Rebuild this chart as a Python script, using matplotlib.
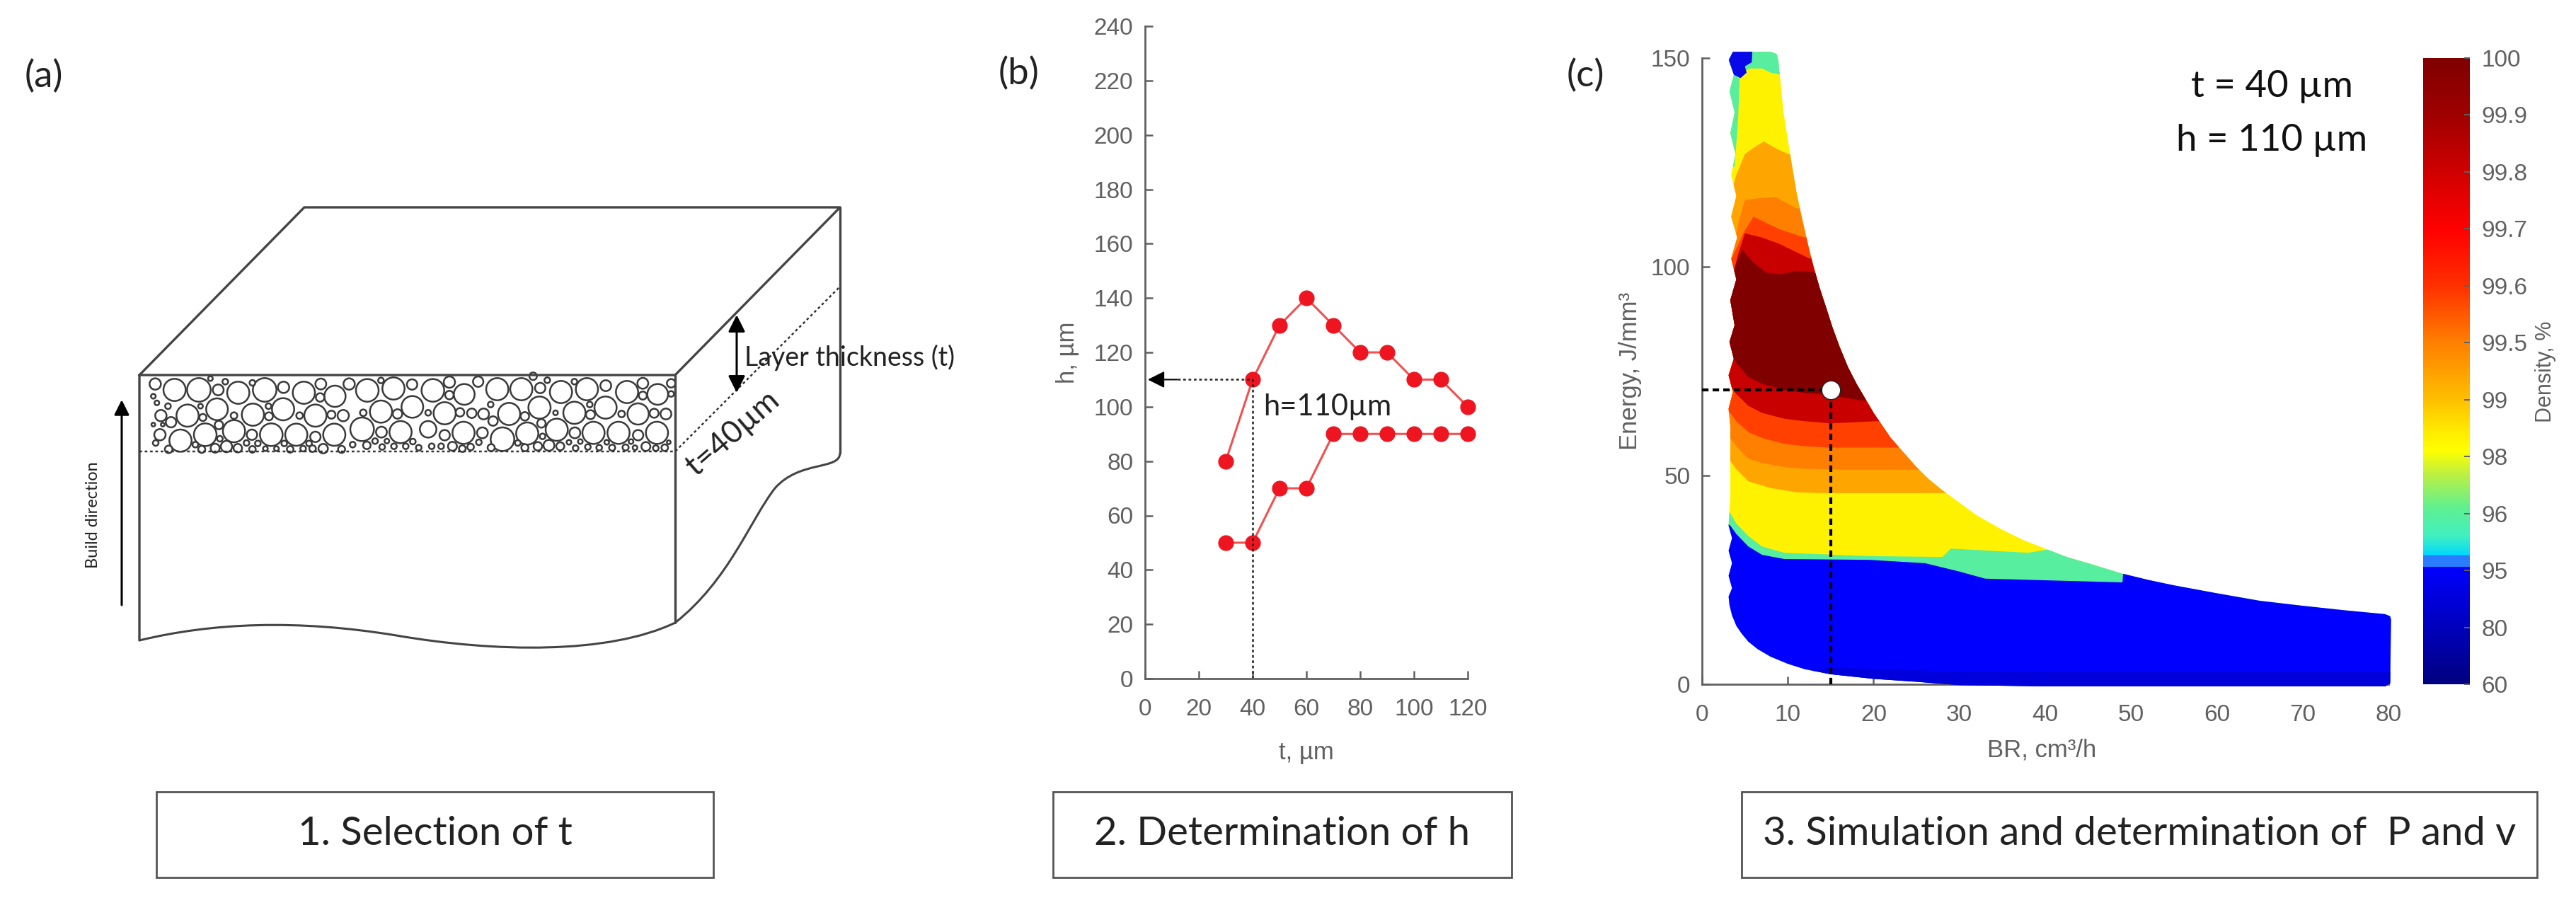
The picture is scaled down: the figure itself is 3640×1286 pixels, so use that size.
import numpy as np
import matplotlib
matplotlib.use("Agg")
from matplotlib import pyplot as plt
from matplotlib.colors import LinearSegmentedColormap
from matplotlib.patches import Circle, PathPatch, Polygon, Rectangle
from matplotlib.path import Path

W, H = 3641, 1286
GREY = '#606060'
plt.rcParams['font.family'] = ['Liberation Sans', 'DejaVu Sans']

# panel b
t_vals = [30, 40, 50, 60, 70, 80, 90, 100, 110, 120]
h_upper = [80, 110, 130, 140, 130, 120, 120, 110, 110, 100]
h_lower = [50, 50, 70, 70, 90, 90, 90, 90, 90, 90]
t_chosen = 40
h_chosen = 110

# panel c, outline of the process window (BR, energy), clockwise from top left
outline_x = [3.1, 3.6, 5.9, 8.0, 8.7, 8.9, 9.5, 10.3, 11, 11.5, 12, 12.5, 13, 13.7, 14.5, 15.2, 16, 17, 18, 19, 20, 21,
             22, 23.5, 25, 26.5, 28, 30, 32, 35, 37.5, 40, 42.5, 45, 49, 52, 55, 60, 65, 70, 75, 79.6, 80.2, 80.3,
             80.2, 79.6, 60, 40, 30, 25, 20, 15, 12, 10, 8, 6.5, 5.4, 4.6, 4, 3.5, 3.2,
             3.1, 3.5, 3.1, 3.5, 3.1, 3.5, 3.1, 3.3, 3.3, 3.3, 3.1, 3.6, 3.1, 3.7, 3.2, 3.8, 3.3, 4.0, 3.4, 4.1,
             3.4, 4.0, 3.4, 3.9, 3.3, 3.8, 3.2, 3.7, 3.1]
outline_e = [149.5, 151.5, 151.5, 151.5, 151, 149.5, 137, 126.6, 118, 113, 108.5, 104, 100, 95, 90, 85.5, 81, 76,
             72, 68.5, 65, 62, 59, 55.5, 52, 49, 46.5, 43.5, 40.5, 37, 34.5, 32.5, 30.5, 29, 26.5, 25, 23.7, 21.8,
             20, 18.8, 17.7, 16.8, 16.3, 15.5, 0.2, -0.5, -0.5, -0.5, -0.2, 0.6, 1.3, 2.4, 3.6, 4.9, 6.6, 8.4,
             10.2, 12.2, 14, 16.5, 19,
             21, 23, 26, 29, 32, 35, 38, 45, 55, 62, 66, 70, 74, 78, 82, 86, 92, 97, 102, 107, 112, 117,
             122, 127, 132, 137, 142, 146, 149.5]

# density bands: top curve and bottom curve, (BR, energy)
yellow_all = [(2, 25), (90, 25), (90, 155), (2, 155)]
light_orange_top = [(2.5, 112), (3.3, 117), (4, 122), (5, 127), (6, 128.5), (7.2, 130), (8.5, 128.5), (10, 127), (14, 127)]
light_orange_bot = [(32, 45.8), (27, 45.8), (19.5, 45.8), (14, 45.8), (11, 46), (8, 47), (5.4, 48.6), (4, 51.5), (3.3, 53.5), (2.5, 55)]
orange_top = [(2.5, 100), (3.7, 105), (4.3, 111), (5, 116), (6.5, 116.4), (8.6, 116.7), (11, 114), (14, 114)]
orange_bot = [(30, 51.4), (24.5, 51.4), (16, 51.4), (12, 51.6), (9.6, 52), (7, 53), (5.4, 54), (4, 57), (3.3, 59), (2.5, 60)]
red_orange_top = [(2.5, 98), (3.7, 103), (4.8, 108), (6, 112), (7.5, 110.5), (9, 109), (12, 107), (15, 107)]
red_orange_bot = [(28, 56.7), (22, 56.7), (15, 56.7), (12, 57), (9.6, 57.6), (7, 59), (5.4, 60.4), (4, 63), (3.3, 65), (2.5, 66)]
red_top = [(2.5, 92), (3.5, 97), (4.2, 103), (5, 108), (7, 107), (9, 105.5), (12.5, 102), (15, 102)]
red_bot = [(25, 63), (20.2, 63), (15, 62.5), (12, 63), (9.6, 63.6), (7, 65), (5.4, 66.7), (4, 69.5), (3.3, 71.5), (2.5, 72)]
maroon_top = [(2.5, 90), (3.3, 96), (4, 101), (4.7, 104), (6, 101), (7.5, 98.6), (9, 98.2), (11, 99), (14, 98.6)]
maroon_bot = [(24, 68), (18.5, 68), (14.6, 69.4), (12, 69.8), (9.6, 70.5), (7, 72), (5.4, 73.6), (4, 77), (3.3, 79), (2.5, 80)]
teal_low = [(2.5, 42), (3.3, 41), (4, 38.5), (5.4, 35.5), (7, 33), (9.6, 31.5), (19.5, 30.7), (28, 30.5), (29, 32.5), (38, 31.5),
            (41, 32.5), (52, 30), (90, 30), (90, -5), (2, -5)]
blue_low = [(2.5, 39), (3.3, 38), (4, 36), (5.4, 33), (7, 31), (9.6, 30), (19.5, 29.8), (26, 29), (30, 27), (33, 25.3), (49, 24.4),
            (49.2, 30), (90, 30), (90, -5), (2, -5)]
teal_high = [(2.5, 124), (3.8, 124), (4.2, 135), (4.4, 146), (5.5, 147.5), (7, 147.5), (8, 146.5), (9.2, 146),
             (10, 153), (2.5, 153)]
blue_high = [(2.8, 153), (5.9, 153), (5.8, 149), (5.0, 148), (5.2, 146.5), (4.5, 145.2), (3.7, 146), (3.2, 149)]
dark_strip = [(0, -1), (90, -1), (90, 3), (30, 3), (15, 4)]
BR_chosen = 15
E_chosen = 70.5

# colorbar
cb_labels = ['60', '80', '95', '96', '98', '99', '99.5', '99.6', '99.7', '99.8', '99.9', '100']
cb_nodes = [0, 2.06, 2.06, 2.26, 2.26, 2.6, 3.1, 3.7, 4.1, 4.4, 5, 6, 7, 8, 9, 10, 11]
cb_colors = ['#00007f', '#0000ff', '#2a7cff', '#2a7cff', '#00d8ff', '#40f0c0', '#60f090', '#c0f040', '#ffff00',
             '#ffee00', '#ffc000', '#ff8000', '#ff3000', '#ff0000', '#d00000', '#a00000', '#7f0000']

# panel a, circles of the powder layer, from left to right in picture pixels (x, y, r)
powder_left = [(200, 153, 47), (303, 153, 50), (470, 165, 47), (582, 153, 50), (748, 165, 47), (880, 180, 45),
               (1017, 155, 48), (1128, 147, 47), (255, 262, 47), (380, 235, 46), (532, 258, 47), (660, 235, 47),
               (797, 262, 47), (1075, 245, 47), (1208, 225, 46), (225, 368, 47), (330, 343, 48), (452, 328, 47),
               (610, 343, 48), (716, 343, 47), (877, 343, 47), (995, 320, 50), (1158, 332, 47), (118, 128, 24),
               (352, 105, 10), (385, 153, 23), (415, 118, 12), (530, 123, 12), (662, 142, 24), (820, 128, 23),
               (817, 185, 18), (940, 128, 24), (1075, 113, 12), (1207, 130, 22), (172, 222, 12), (142, 262, 24),
               (185, 290, 22), (320, 270, 15), (310, 222, 10), (452, 262, 14), (598, 222, 12), (600, 265, 17),
               (730, 262, 14), (865, 258, 17), (915, 262, 24), (1000, 250, 14), (1145, 255, 20), (138, 343, 24),
               (388, 302, 18), (392, 360, 12), (528, 343, 22), (797, 352, 22), (1077, 332, 23), (175, 405, 16),
               (288, 385, 12), (315, 405, 15), (372, 400, 19), (420, 393, 24), (468, 400, 18), (505, 378, 12),
               (530, 405, 14), (553, 380, 12), (585, 402, 10), (632, 402, 10), (665, 380, 12), (690, 405, 14),
               (745, 402, 12), (770, 380, 12), (785, 402, 14), (830, 402, 20), (908, 405, 15), (955, 385, 12),
               (1015, 388, 16), (1050, 370, 12), (1080, 395, 12), (1100, 370, 10), (1130, 392, 12), (1180, 392, 12),
               (1210, 372, 12), (1235, 398, 12), (110, 180, 10), (125, 208, 10), (110, 300, 8), (150, 300, 8),
               (120, 378, 12)]
powder_right = [(35, 155, 48), (105, 120, 24), (105, 175, 18), (168, 172, 44), (227, 118, 22), (308, 150, 47),
                (410, 150, 47), (490, 145, 22), (520, 112, 12), (460, 95, 16), (578, 162, 47), (635, 118, 12),
                (688, 150, 47), (768, 135, 23), (858, 162, 47), (925, 125, 23), (925, 177, 17), (988, 172, 44),
                (1045, 125, 18), (85, 252, 47), (150, 248, 18), (200, 252, 20), (250, 255, 23), (358, 255, 47),
                (425, 265, 18), (487, 228, 47), (635, 250, 47), (703, 258, 19), (767, 228, 47), (700, 215, 12),
                (835, 255, 14), (905, 255, 45), (973, 252, 19), (1023, 255, 23), (280, 215, 12), (290, 285, 20),
                (15, 250, 12), (555, 250, 10), (495, 295, 18), (15, 320, 35), (85, 345, 22), (165, 335, 47),
                (245, 335, 23), (330, 362, 50), (435, 338, 47), (560, 322, 47), (637, 335, 23), (716, 335, 47),
                (822, 335, 47), (905, 345, 22), (985, 335, 47), (500, 350, 12), (30, 392, 12), (70, 392, 12),
                (118, 392, 19), (160, 402, 14), (195, 395, 14), (282, 398, 15), (395, 378, 12), (425, 398, 15),
                (480, 392, 18), (527, 388, 23), (575, 392, 17), (612, 375, 10), (640, 400, 12), (660, 372, 10),
                (692, 395, 12), (740, 398, 12), (772, 375, 10), (795, 398, 13), (852, 397, 13), (875, 372, 10),
                (892, 398, 10), (938, 393, 19), (980, 400, 12), (1018, 398, 14), (1035, 375, 8), (1045, 170, 12),
                (230, 375, 12)]


def box(x0, y0, x1, y1):
    return [x0 / W, 1 - y1 / H, (x1 - x0) / W, (y1 - y0) / H]


fig = plt.figure(figsize=(W / 100, H / 100), dpi=100, facecolor='white')

# overlay in picture pixels, for the sketch of panel a and the captions
ov = fig.add_axes([0, 0, 1, 1], zorder=5)
ov.set_xlim(0, W)
ov.set_ylim(H, 0)
ov.axis('off')
ov.patch.set_alpha(0)

line = dict(color='#444444', lw=2.4, solid_capstyle='round')
ov.plot([197, 430, 1187, 954, 197, 197], [530, 293, 293, 530, 530, 905], **line)
ov.plot([954, 954], [530, 880], **line)
ov.plot([1187, 1187], [293, 640], **line)
ov.plot([197, 954, 1187], [638, 638, 405], color='#333333', lw=1.8, ls=(0, (1.5, 1.5)))
wave_bottom = Path([(197, 905), (300, 880), (420, 875), (560, 898), (700, 922), (860, 925), (954, 880)],
                   [Path.MOVETO, Path.CURVE4, Path.CURVE4, Path.CURVE4, Path.CURVE4, Path.CURVE4, Path.CURVE4])
wave_right = Path([(1187, 640), (1187, 665), (1130, 650), (1095, 690), (1060, 735), (1030, 820), (954, 880)],
                  [Path.MOVETO, Path.CURVE4, Path.CURVE4, Path.CURVE4, Path.CURVE4, Path.CURVE4, Path.CURVE4])
ov.add_patch(PathPatch(wave_bottom, fc='none', ec='#444444', lw=2.2))
ov.add_patch(PathPatch(wave_right, fc='none', ec='#444444', lw=2.2))

for cx, cy, r in powder_left:
    ov.add_patch(Circle((180 + cx / 3, 500 + cy / 3), r / 3, fc='white', ec='#3a3a3a', lw=1.8))
for cx, cy, r in powder_right:
    ov.add_patch(Circle((600 + cx / 3, 500 + cy / 3), r / 3, fc='white', ec='#3a3a3a', lw=1.8))

ov.annotate('', xy=(1041, 445), xytext=(1041, 555),
            arrowprops=dict(arrowstyle='<|-|>', color='black', lw=2.2, mutation_scale=36, shrinkA=0, shrinkB=0))
ov.annotate('', xy=(172, 565), xytext=(172, 855),
            arrowprops=dict(arrowstyle='-|>', color='black', lw=2.2, mutation_scale=32, shrinkA=0, shrinkB=0))

lato = ['Lato', 'DejaVu Sans']
ov.text(1052, 517, 'Layer thickness (t)', fontsize=27, family=lato, color='#222222', va='baseline')
ov.text(1036, 612, 't=40µm', fontsize=32, family=lato, color='#222222', rotation=41, rotation_mode='anchor',
        ha='center', va='center')
ov.text(132, 728, 'Build direction', fontsize=17, family=lato, color='#222222', rotation=90, ha='center', va='center')
ov.text(62, 108, '(a)', fontsize=38, family=lato, color='#222222', ha='center', va='center')
ov.text(1440, 104, '(b)', fontsize=38, family=lato, color='#222222', ha='center', va='center')
ov.text(2240, 107, '(c)', fontsize=38, family=lato, color='#222222', ha='center', va='center')
ov.text(3210, 123, 't = 40 µm', fontsize=38, family=lato, color='#111111', ha='center', va='center')
ov.text(3210, 199, 'h = 110 µm', fontsize=38, family=lato, color='#111111', ha='center', va='center')

for x0, x1, cap in [(221, 1008, '1. Selection of t'), (1488, 2136, '2. Determination of h'),
                    (2461, 3585, '3. Simulation and determination of  P and v')]:
    ov.add_patch(Rectangle((x0, 1119), x1 - x0, 121, fc='white', ec='#555555', lw=2))
    ov.text((x0 + x1) / 2, 1179, cap, fontsize=40.5, family=lato, color='#222222', ha='center', va='center')

# panel b
ax_b = fig.add_axes(box(1618, 37, 2074, 959))
ax_b.plot(t_vals, h_upper, '-o', color='#f25050', lw=2.2, mfc='#ee1520', mec='#ee1520', ms=15, clip_on=False)
ax_b.plot(t_vals, h_lower, '-o', color='#f25050', lw=2.2, mfc='#ee1520', mec='#ee1520', ms=15, clip_on=False)
ax_b.plot([t_chosen, t_chosen], [0, h_chosen], color='#222222', lw=1.8, ls=(0, (1.5, 1.5)))
ax_b.plot([12, t_chosen], [h_chosen, h_chosen], color='#222222', lw=1.8, ls=(0, (1.5, 1.5)))
ax_b.annotate('', xy=(1, h_chosen), xytext=(12, h_chosen),
              arrowprops=dict(arrowstyle='-|>', color='black', lw=1.5, mutation_scale=36, shrinkA=0, shrinkB=0))
ax_b.text(44, 100, 'h=110µm', fontsize=30, family=lato, color='#222222', va='center')
ax_b.set_xlim(0, 120)
ax_b.set_ylim(0, 240)
ax_b.set_xticks(range(0, 121, 20))
ax_b.set_yticks(range(0, 241, 20))
ax_b.set_xlabel('t, µm', fontsize=25, color=GREY)
ax_b.xaxis.set_label_coords(0.5, -0.095)
ax_b.set_ylabel('h, µm', fontsize=25, color=GREY)
ax_b.yaxis.set_label_coords(-0.205, 0.5)

# panel c
ax_c = fig.add_axes(box(2405, 82, 3375, 967))
ax_c.patch.set_alpha(0)
shape = Polygon(list(zip(outline_x, outline_e)), closed=True, fc='none', ec='none', clip_on=False, zorder=1)
ax_c.add_patch(shape)


def band(points, color, z):
    p = Polygon(points, closed=True, fc=color, ec='none', zorder=z)
    ax_c.add_patch(p)
    p.set_clip_box(None)
    p.set_clip_path(shape)


band(yellow_all, '#fff200', 1.5)
band(teal_low, '#58eea0', 2)
band(blue_low, '#0000ff', 3)
band(dark_strip, '#0000dc', 3.5)
band(teal_high, '#58eea0', 2)
band(blue_high, '#0808e8', 3)
band(light_orange_top + light_orange_bot, '#ffa500', 4)
band(orange_top + orange_bot, '#ff8000', 5)
band(red_orange_top + red_orange_bot, '#ff4000', 6)
band(red_top + red_bot, '#c80000', 7)
band(maroon_top + maroon_bot, '#800000', 8)

ax_c.plot([BR_chosen, BR_chosen], [0, E_chosen], color='black', lw=3, ls=(0, (2.2, 1.4)), zorder=9)
ax_c.plot([0, BR_chosen], [E_chosen, E_chosen], color='black', lw=3, ls=(0, (2.2, 1.4)), zorder=9)
ax_c.plot([BR_chosen], [E_chosen], 'o', color='white', ms=19, mec='#222222', mew=1, zorder=10)
ax_c.set_xlim(0, 80)
ax_c.set_ylim(0, 150)
ax_c.set_xticks(range(0, 81, 10))
ax_c.set_yticks([0, 50, 100, 150])
ax_c.set_xlabel('BR, cm³/h', fontsize=25, color=GREY)
ax_c.xaxis.set_label_coords(0.495, -0.086)
ax_c.set_ylabel('Energy, J/mm³', fontsize=25, color=GREY)
ax_c.yaxis.set_label_coords(-0.088, 0.5)

for ax in [ax_b, ax_c]:
    ax.spines['top'].set_visible(False)
    ax.spines['right'].set_visible(False)
    ax.spines['left'].set_color(GREY)
    ax.spines['bottom'].set_color(GREY)
    ax.spines['left'].set_linewidth(2)
    ax.spines['bottom'].set_linewidth(2)
    ax.tick_params(direction='in', length=8, width=1.8, color=GREY, labelcolor=GREY, labelsize=24, pad=12)
ax_b.tick_params(axis='x', pad=20)
ax_c.tick_params(axis='x', pad=20)

# colorbar
ax_cb = fig.add_axes(box(3424, 82, 3490, 967))
nodes = np.array(cb_nodes, dtype=float) / cb_nodes[-1]
cmap = LinearSegmentedColormap.from_list('density', list(zip(nodes, cb_colors)), N=1024)
ax_cb.imshow(np.linspace(0, 1, 1024).reshape(-1, 1), cmap=cmap, origin='lower', aspect='auto',
             extent=[0, 1, 0, 11])
ax_cb.set_xticks([])
ax_cb.yaxis.tick_right()
ax_cb.set_yticks(range(len(cb_labels)))
ax_cb.set_yticklabels(cb_labels)
ax_cb.tick_params(axis='y', direction='in', length=6, width=1.4, color=GREY, labelcolor=GREY, labelsize=24, pad=12)
for s in ax_cb.spines.values():
    s.set_visible(False)
ov.text(3597, 525, 'Density, %', fontsize=22, color=GREY, rotation=90, ha='center', va='center')

fig.savefig('out.png', dpi=100)
plt.close()
